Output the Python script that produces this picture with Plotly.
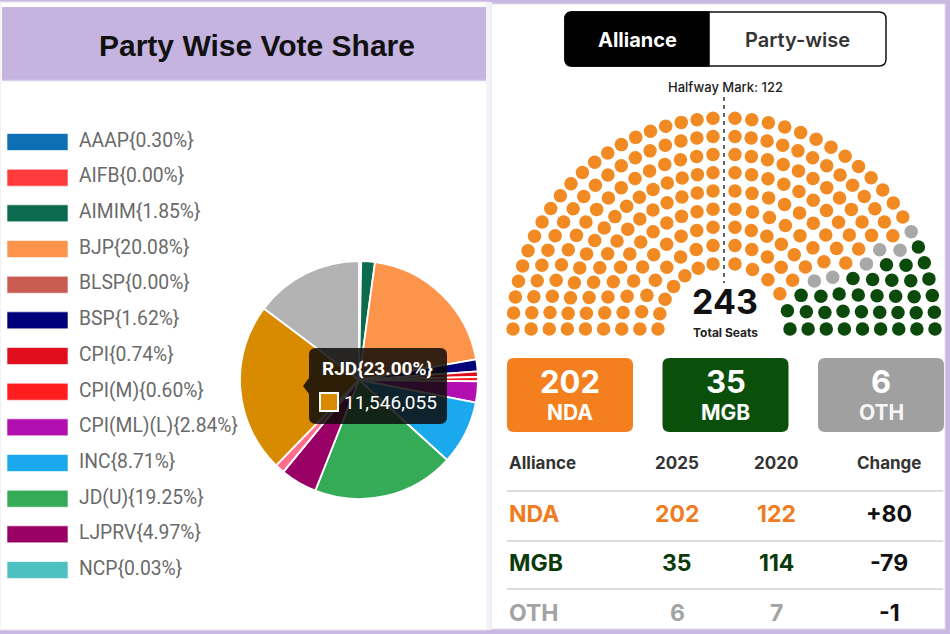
import numpy as np
import plotly.graph_objects as go

# ---------------- data ----------------
parties = ["AAAP", "AIFB", "AIMIM", "BJP", "BLSP", "BSP", "CPI", "CPI(M)", "CPI(ML)(L)",
           "INC", "JD(U)", "LJPRV", "NCP", "NOTA", "RJD", "Others"]
vote_pct = [0.30, 0.00, 1.85, 20.08, 0.00, 1.62, 0.74, 0.60, 2.84,
            8.71, 19.25, 4.97, 0.03, 1.28, 23.00, 14.73]
party_colors = ["#0f6fb5", "#ff3b3b", "#0c6b4f", "#fd944c", "#c95b50", "#00007a", "#e00d1f",
                "#ff1d1d", "#b30fb0", "#1aa9ec", "#36ab57", "#990066", "#4dc1c0", "#ff6f8c",
                "#d98b00", "#b3b3b3"]
legend_visible = 13            # legend items visible in the scrolled legend
highlight_party = "RJD"
highlight_votes = 11546055

alliances = ["NDA", "MGB", "OTH"]
seats_2025 = [202, 35, 6]
seats_2020 = [122, 114, 7]
alliance_colors = ["#f28a24", "#0b4a0b", "#a8a8a8"]
box_colors = ["#f47f1e", "#0a4f0a", "#a0a0a0"]
table_colors = ["#f07c22", "#0a3a0a", "#a3a3a3"]
seat_order = ["NDA", "OTH", "MGB"]   # left to right in hemicycle

W, H = 950, 634
total_seats = sum(seats_2025)
halfway = total_seats // 2 + 1

fig = go.Figure()
shapes = []
annotations = []


def rrect(x0, y0, x1, y1, r, left=True, right=True):
    p = []
    if left:
        p.append(f"M{x0+r},{y0}")
    else:
        p.append(f"M{x0},{y0}")
    if right:
        p.append(f"L{x1-r},{y0} Q{x1},{y0} {x1},{y0+r} L{x1},{y1-r} Q{x1},{y1} {x1-r},{y1}")
    else:
        p.append(f"L{x1},{y0} L{x1},{y1}")
    if left:
        p.append(f"L{x0+r},{y1} Q{x0},{y1} {x0},{y1-r} L{x0},{y0+r} Q{x0},{y0} {x0+r},{y0} Z")
    else:
        p.append(f"L{x0},{y1} Z")
    return " ".join(p)


def ann(x, y, text, size, color, family="Inter", xanchor="center", weight=None):
    f = dict(size=size, color=color, family=family)
    if weight is not None:
        f["weight"] = weight
    annotations.append(dict(x=x, y=y, xref="x", yref="y", text=text, showarrow=False,
                            xanchor=xanchor, yanchor="middle", font=f))


# ---------------- frame / panels ----------------
shapes.append(dict(type="rect", x0=0, y0=2, x1=487, y1=630, fillcolor="white",
                   line=dict(color="#e6e6ec", width=1), layer="below", xref="x", yref="y"))
shapes.append(dict(type="rect", x0=487, y0=2, x1=492, y1=630, fillcolor="#f4f4f8",
                   line=dict(width=0), layer="below", xref="x", yref="y"))
shapes.append(dict(type="rect", x0=491, y0=4, x1=945, y1=629, fillcolor="white",
                   line=dict(color="#e2e2ea", width=1), layer="below", xref="x", yref="y"))
# title bar
shapes.append(dict(type="rect", x0=2, y0=7, x1=486, y1=81, fillcolor="#c5b4e0",
                   line=dict(width=0), layer="below", xref="x", yref="y"))
shapes.append(dict(type="line", x0=2, y0=80.5, x1=486, y1=80.5,
                   line=dict(color="#d9d0ef", width=1.5), layer="below", xref="x", yref="y"))
ann(257, 45, "<b>Party Wise Vote Share</b>", 30, "#111111", family="Liberation Sans, Arial")

# ---------------- legend (scrolled, first items) ----------------
leg_y0, leg_dy = 142, 35.67
leg_y = [leg_y0 + i * leg_dy for i in range(legend_visible)]
for i in range(legend_visible):
    shapes.append(dict(type="rect", x0=7, x1=68, y0=leg_y[i] - 8.5, y1=leg_y[i] + 8.5,
                       fillcolor=party_colors[i], line=dict(color="rgba(255,255,255,0.6)", width=1),
                       layer="below", xref="x", yref="y"))
fig.add_trace(go.Scatter(
    x=[79] * legend_visible, y=leg_y, mode="text",
    text=[f"{p}{{{v:.2f}%}}" for p, v in zip(parties[:legend_visible], vote_pct[:legend_visible])],
    textposition="middle right", textfont=dict(size=19.3, color="#6a6a6a", family="Roboto"),
    hoverinfo="skip", showlegend=False))

# ---------------- pie ----------------
pcx, pcy, pr = 359, 380, 119
fig.add_trace(go.Pie(
    labels=parties, values=vote_pct, sort=False, direction="clockwise", rotation=0,
    marker=dict(colors=party_colors, line=dict(color="white", width=1.8)),
    textinfo="none", hoverinfo="skip", showlegend=False,
    domain=dict(x=[(pcx - pr) / W, (pcx + pr) / W], y=[1 - (pcy + pr) / H, 1 - (pcy - pr) / H])))

# tooltip
hi = parties.index(highlight_party)
tx0, ty0, tx1, ty1 = 309, 348, 447, 424
shapes.append(dict(type="path", path=rrect(tx0, ty0, tx1, ty1, 7), fillcolor="rgba(12,10,8,0.84)",
                   line=dict(width=0), layer="above", xref="x", yref="y"))
shapes.append(dict(type="path", path=f"M{tx0},{378} L{tx0-6},{386} L{tx0},{394} Z",
                   fillcolor="rgba(12,10,8,0.84)", line=dict(width=0), layer="above", xref="x", yref="y"))
shapes.append(dict(type="rect", x0=320, x1=338, y0=393, y1=411, fillcolor=party_colors[hi],
                   line=dict(color="white", width=2), layer="above", xref="x", yref="y"))
ann(377, 368, f"<b>{parties[hi]}{{{vote_pct[hi]:.2f}%}}</b>", 19, "white", family="Roboto")
ann(342, 402.5, f"{highlight_votes:,}", 19, "white", family="Roboto", xanchor="left")

# ---------------- toggle ----------------
shapes.append(dict(type="path", path=rrect(565, 12, 886, 66, 7), fillcolor="white",
                   line=dict(color="#111", width=1.5), layer="below", xref="x", yref="y"))
shapes.append(dict(type="path", path=rrect(565, 12, 709, 66, 7, right=False), fillcolor="#000",
                   line=dict(color="#000", width=1.5), layer="below", xref="x", yref="y"))
ann(637, 39.5, "<b>Alliance</b>", 20, "white")
ann(797, 39.5, "Party-wise", 20, "#333333", weight=600)
ann(725, 87, f"Halfway Mark: {halfway}", 13, "#222222", weight=500)

# ---------------- hemicycle ----------------
n_rows = 9
hcx, hcy = 724, 329
r_in, r_out = 66, 211
radii = np.linspace(r_in, r_out, n_rows)
raw = total_seats * radii / radii.sum()
counts = np.floor(raw).astype(int)
rem = int(total_seats - counts.sum())
counts[np.argsort(-(raw - counts))[:rem]] += 1
gap = 11.0
sx, sy, sa = [], [], []
for r, n in zip(radii, counts):
    nl = (n + 1) // 2
    nr = n - nl
    g = gap / r
    angs = np.concatenate([np.linspace(np.pi, np.pi / 2 + g, nl), np.linspace(np.pi / 2 - g, 0, nr)])
    for a in angs:
        sx.append(hcx + r * np.cos(a))
        sy.append(hcy - r * np.sin(a))
        sa.append(a)
idx = np.argsort(-np.array(sa), kind="stable")
sx = np.array(sx)[idx]
sy = np.array(sy)[idx]
start = 0
for name in seat_order:
    k = alliances.index(name)
    n = seats_2025[k]
    fig.add_trace(go.Scatter(x=sx[start:start + n], y=sy[start:start + n], mode="markers",
                             marker=dict(size=13.5, color=alliance_colors[k], line=dict(width=0)),
                             hoverinfo="skip", showlegend=False))
    start += n

shapes.append(dict(type="line", x0=hcx, x1=hcx, y0=97, y1=283, xref="x", yref="y",
                   line=dict(color="#555555", width=1.8, dash="4px,4px"), layer="above"))
ann(hcx + 1, 301, f"<b>{total_seats}</b>", 34, "#111111")
ann(hcx + 1, 332, "<b>Total Seats</b>", 12, "#222222")

# ---------------- summary boxes ----------------
for i, name in enumerate(alliances):
    x0 = 507 + i * 155.5
    shapes.append(dict(type="path", path=rrect(x0, 358, x0 + 126, 432, 7), fillcolor=box_colors[i],
                       line=dict(width=0), layer="below", xref="x", yref="y"))
    ann(x0 + 63, 381, f"<b>{seats_2025[i]}</b>", 31, "white")
    ann(x0 + 63, 412, f"<b>{name}</b>", 21, "#ffffff" if i < 2 else "#f6f6f6")

# ---------------- table ----------------
col_x = [507, 677, 776, 889]
ann(col_x[0], 463, "<b>Alliance</b>", 17, "#333333", xanchor="left")
ann(col_x[1], 463, "<b>2025</b>", 17, "#333333")
ann(col_x[2], 463, "<b>2020</b>", 17, "#333333")
ann(col_x[3], 463, "<b>Change</b>", 17, "#333333")
for ly in [491, 541, 589]:
    shapes.append(dict(type="line", x0=507, x1=943, y0=ly, y1=ly, xref="x", yref="y",
                       line=dict(color="#d2d2d2", width=1.5), layer="below"))
row_y = [514, 563, 613]
for i, name in enumerate(alliances):
    ch = seats_2025[i] - seats_2020[i]
    ann(col_x[0], row_y[i], f"<b>{name}</b>", 23, table_colors[i], xanchor="left")
    ann(col_x[1], row_y[i], f"<b>{seats_2025[i]}</b>", 23, table_colors[i])
    ann(col_x[2], row_y[i], f"<b>{seats_2020[i]}</b>", 23, table_colors[i])
    ann(col_x[3], row_y[i], f"<b>{'+' if ch > 0 else ''}{ch}</b>", 23, "#111111")

fig.update_layout(
    width=W, height=H, margin=dict(l=0, r=0, t=0, b=0),
    paper_bgcolor="#c9b8e3", plot_bgcolor="rgba(0,0,0,0)",
    xaxis=dict(range=[0, W], domain=[0, 1], visible=False, fixedrange=True),
    yaxis=dict(range=[H, 0], domain=[0, 1], visible=False, fixedrange=True),
    shapes=shapes, annotations=annotations, showlegend=False,
)
fig.write_html("out.html", config={"displayModeBar": False},
               post_script="document.body.style.margin='0px';document.body.style.padding='0px';")
